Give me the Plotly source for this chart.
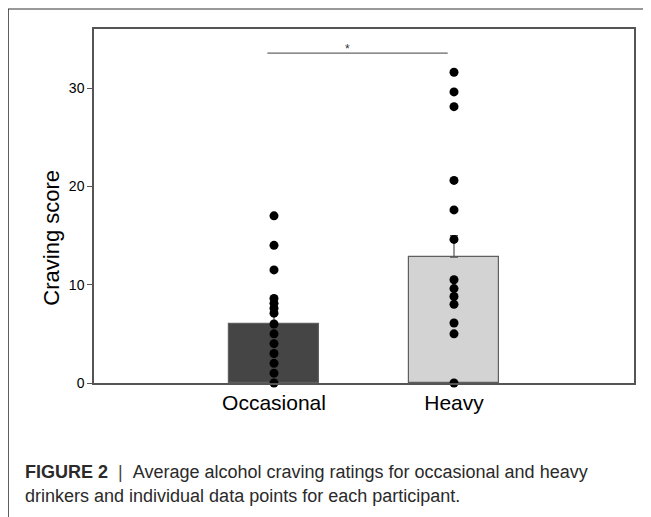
import plotly.graph_objects as go

categories = ["Occasional", "Heavy"]
cat_pos = [0, 1]
mean_scores = [6.0, 12.8]
sem_scores = [1.0, 2.2]
occasional_scores = [17, 14, 11.5, 8.6, 8.1, 7.6, 7.1, 6, 5, 4, 3, 2, 1, 0]
heavy_scores = [31.6, 29.6, 28.1, 20.6, 17.6, 14.6, 10.5, 9.6, 8.8, 8.0, 6.1, 5.0, 0]
y_ticks = [0, 10, 20, 30]

FONT = "Arial, Liberation Sans, sans-serif"
NB = "\u00a0"

fig = go.Figure()
fig.add_trace(go.Bar(
    x=cat_pos, y=mean_scores, width=0.5,
    marker=dict(color=["#454545", "#d3d3d3"], line=dict(color="#5f5f5f", width=1.2)),
    error_y=dict(type="data", symmetric=False, array=sem_scores, arrayminus=[0, 0],
                 color="#555555", thickness=1.2, width=4),
    showlegend=False, hoverinfo="skip",
))
fig.add_trace(go.Scatter(
    x=[cat_pos[0]] * len(occasional_scores), y=occasional_scores, mode="markers",
    marker=dict(color="black", size=9), showlegend=False, cliponaxis=False,
))
fig.add_trace(go.Scatter(
    x=[cat_pos[1]] * len(heavy_scores), y=heavy_scores, mode="markers",
    marker=dict(color="black", size=9), showlegend=False, cliponaxis=False,
))

# significance bracket
fig.add_shape(type="line", xref="x", yref="y", x0=-0.037, x1=0.965, y0=33.55, y1=33.55,
              line=dict(color="#666666", width=1.2))
fig.add_annotation(xref="x", yref="y", x=0.41, y=33.55, text="*", showarrow=False,
                   yanchor="bottom", yshift=-5, font=dict(family=FONT, size=12, color="#333"))

# outer figure frame
fig.add_shape(type="line", xref="paper", yref="paper", x0=-0.1593, x1=1.05, y0=1.0565, y1=1.0565,
              line=dict(color="#777777", width=1.5))
fig.add_shape(type="line", xref="paper", yref="paper", x0=-0.1593, x1=-0.1593, y0=1.0565, y1=-0.40,
              line=dict(color="#222222", width=1.5))

# y-axis title
fig.add_annotation(xref="paper", yref="paper", x=-0.105, y=0.41, text="Craving score",
                   textangle=-90, showarrow=False, font=dict(family=FONT, size=22, color="black"))

# caption
fig.add_annotation(xref="paper", yref="paper", x=-0.1315, y=-0.252, xanchor="left", yanchor="middle",
                   text="<b>FIGURE 2</b>" + NB * 2 + "<span style='color:#444'>|</span>" + NB * 2
                        + "Average alcohol craving ratings for occasional and heavy",
                   showarrow=False, align="left", font=dict(family=FONT, size=18, color="#2a2a2a"))
fig.add_annotation(xref="paper", yref="paper", x=-0.1315, y=-0.320, xanchor="left", yanchor="middle",
                   text="drinkers and individual data points for each participant.",
                   showarrow=False, align="left", font=dict(family=FONT, size=18, color="#2a2a2a"))

# page body has an 8px margin, so the figure is shifted by 8px; compensate
fig.update_layout(
    width=643, height=509,
    margin=dict(l=86, r=17, t=21, b=134),
    paper_bgcolor="white", plot_bgcolor="white",
    bargap=0,
)
fig.update_xaxes(
    range=[-1, 2], tickvals=cat_pos, ticktext=categories, showgrid=False, zeroline=False,
    showline=True, mirror=True, linecolor="#555555", linewidth=1.5, ticks="",
    tickfont=dict(family=FONT, size=21, color="black"),
)
fig.update_yaxes(
    range=[0, 36], tickvals=y_ticks, showgrid=False, zeroline=False,
    showline=True, mirror=True, linecolor="#555555", linewidth=1.5,
    ticks="outside", ticklen=5, tickcolor="#555555", tickwidth=1.2,
    tickfont=dict(family=FONT, size=14, color="black"),
)

fig.write_html("out.html")
